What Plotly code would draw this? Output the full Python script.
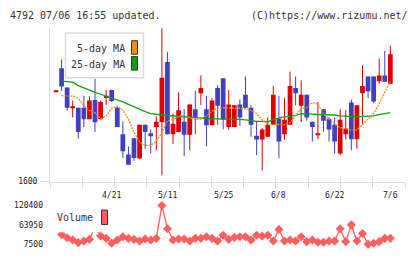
import plotly.graph_objects as go

# ---------------- data ----------------
dates = ["4/7", "4/8", "4/11", "4/12", "4/13", "4/14", "4/15", "4/18", "4/19", "4/20",
         "4/21", "4/22", "4/25", "4/26", "4/27", "4/28", "5/2", "5/6", "5/9", "5/10",
         "5/11", "5/12", "5/13", "5/16", "5/17", "5/18", "5/19", "5/20", "5/23", "5/24",
         "5/25", "5/26", "5/27", "5/30", "5/31", "6/1", "6/2", "6/3", "6/6", "6/7",
         "6/8", "6/9", "6/10", "6/13", "6/14", "6/15", "6/16", "6/17", "6/20", "6/21",
         "6/22", "6/23", "6/24", "6/27", "6/28", "6/29", "6/30", "7/1", "7/4", "7/5", "7/6"]

opens = [1786, 1835, 1795, 1753, 1753, 1753, 1729, 1769, 1729, 1773,
         1790, 1753, 1698, 1656, 1690, 1648, 1718, 1700, 1713, 1723,
         1848, 1698, 1703, 1724, 1697, 1750, 1783, 1750, 1717, 1794,
         1814, 1713, 1713, 1760, 1780, 1753, 1695, 1687, 1693, 1718,
         1730, 1698, 1718, 1794, 1757, 1780, 1724, 1698, 1750, 1730,
         1718, 1658, 1698, 1764, 1688, 1783, 1818, 1818, 1808, 1820, 1803]
highs = [1788, 1853, 1795, 1768, 1753, 1778, 1777, 1813, 1768, 1790,
         1790, 1756, 1725, 1673, 1690, 1718, 1718, 1708, 1735, 1918,
         1868, 1741, 1785, 1750, 1760, 1788, 1820, 1778, 1773, 1800,
         1814, 1790, 1758, 1770, 1818, 1758, 1725, 1711, 1733, 1798,
         1778, 1773, 1828, 1818, 1810, 1780, 1724, 1765, 1750, 1733,
         1733, 1750, 1748, 1770, 1758, 1841, 1818, 1818, 1855, 1871, 1882]
lows = [1786, 1788, 1747, 1733, 1689, 1713, 1729, 1703, 1729, 1759,
        1765, 1713, 1649, 1635, 1643, 1648, 1668, 1658, 1665, 1613,
        1698, 1678, 1703, 1653, 1665, 1698, 1759, 1673, 1717, 1718,
        1708, 1708, 1713, 1715, 1753, 1693, 1655, 1623, 1693, 1718,
        1648, 1687, 1718, 1758, 1723, 1726, 1683, 1688, 1703, 1683,
        1658, 1655, 1687, 1665, 1668, 1718, 1773, 1763, 1803, 1807, 1803]
closes = [1788, 1797, 1753, 1755, 1703, 1729, 1768, 1723, 1765, 1778,
          1767, 1713, 1663, 1635, 1649, 1718, 1703, 1696, 1724, 1815,
          1698, 1720, 1748, 1697, 1760, 1733, 1794, 1717, 1768, 1757,
          1728, 1760, 1758, 1733, 1753, 1718, 1687, 1708, 1718, 1780,
          1683, 1728, 1798, 1783, 1780, 1733, 1713, 1700, 1726, 1708,
          1683, 1728, 1710, 1688, 1758, 1798, 1787, 1766, 1820, 1807, 1864]

ma5 = [None, 1778, 1778, 1777, 1773, 1757, 1747, 1743, 1730, 1736,
       1752, 1756, 1748, 1730, 1702, 1682, 1675, 1675, 1684, 1701,
       1726, 1729, 1735, 1737, 1732, 1728, 1730, 1736, 1746, 1753,
       1753, 1753, 1753, 1752, 1751, 1747, 1741, 1728, 1718, 1718,
       1718, 1718, 1722, 1736, 1752, 1753, 1764, 1761, 1740, 1730,
       1719, 1712, 1709, 1707, 1707, 1719, 1731, 1741, 1762, 1784, 1808]
ma25 = [None, 1808, 1807, 1806, 1799, 1794, 1789, 1785, 1781, 1777,
        1774, 1770, 1765, 1760, 1755, 1749, 1745, 1741, 1739, 1738,
        1737, 1736, 1736, 1735, 1733, 1732, 1731, 1730, 1730, 1730,
        1730, 1729, 1729, 1729, 1728, 1726, 1725, 1725, 1724, 1729,
        1732, 1734, 1735, 1737, 1741, 1741, 1740, 1739, 1739, 1738,
        1738, 1736, 1735, 1734, 1734, 1735, 1735, 1736, 1739, 1741, 1743]

volume = [None, 35700, 26100, 19600, 12000, 16800, 21600, 56300, 31800, 24400,
          10300, 19600, 29000, 24400, 21600, 16800, 22500, 19600, 24400, 120400,
          52700, 19600, 22500, 22500, 16800, 24400, 24400, 29000, 24400, 16800,
          33700, 21600, 27300, 29000, 29000, 19600, 33700, 30900, 33700, 16800,
          50700, 16800, 19600, 16800, 29000, 14800, 19600, 13100, 13100, 16800,
          16800, 52700, 14800, 63900, 16800, 38500, 7500, 10300, 14800, 24400, 24400]

price_ticks = [1600]
vol_ticks = [7500, 63950, 120400]
label_every = 10

# ---------------- styling ----------------
W, H = 420, 259
RED = "#dd0000"
BLUE = "#4040bf"
ORANGE = "#f08c1e"
GREEN = "#12a012"
VOLC = "#ff5f5f"
AX = "#dcdcdc"
TXT = "#333333"
FONT = "DejaVu Sans Mono"


def px(x):
    return x / W


def py(y):
    return 1 - y / H


n = len(dates)
idx = list(range(n))
up = [c >= o for o, c in zip(opens, closes)]

XR = [-1.077, 62.63]
tick_pos = [XR[0] + k * (XR[1] - XR[0]) / 11 for k in range(12)]

fig = go.Figure()

# wicks
for flag, color in [(True, RED), (False, BLUE)]:
    xs, ys = [], []
    for i in idx:
        if up[i] == flag:
            xs += [i, i, None]
            ys += [lows[i], highs[i], None]
    fig.add_trace(go.Scatter(x=xs, y=ys, mode="lines", line=dict(color=color, width=1),
                             hoverinfo="skip", xaxis="x", yaxis="y"))

# moving averages
fig.add_trace(go.Scatter(x=idx, y=ma25, mode="lines", line=dict(color=GREEN, width=1.3),
                         xaxis="x", yaxis="y"))
fig.add_trace(go.Scatter(x=idx, y=ma5, mode="lines",
                         line=dict(color=ORANGE, width=1.3, dash="2px,1px"),
                         xaxis="x", yaxis="y"))

# bodies
for flag, color in [(True, RED), (False, BLUE)]:
    xs = [i for i in idx if up[i] == flag]
    base = [min(opens[i], closes[i]) for i in xs]
    hgt = [max(abs(closes[i] - opens[i]), 2) for i in xs]
    fig.add_trace(go.Bar(x=xs, y=hgt, base=base, width=0.85,
                         marker=dict(color=color, line=dict(width=0)),
                         xaxis="x", yaxis="y"))

# volume
fig.add_trace(go.Scatter(x=idx, y=volume, mode="lines+markers",
                         line=dict(color=VOLC, width=1.3),
                         marker=dict(symbol="diamond", size=7, color=VOLC),
                         cliponaxis=False, xaxis="x2", yaxis="y2"))

# helper trace for the overlay tick axis
fig.add_trace(go.Scatter(x=[0], y=[1600], mode="markers", marker=dict(opacity=0),
                         xaxis="x3", yaxis="y", hoverinfo="skip"))

tickfont = dict(family=FONT, size=8, color="#222222")

fig.update_layout(
    width=W, height=H, margin=dict(l=0, r=0, t=0, b=0),
    paper_bgcolor="white", plot_bgcolor="white", showlegend=False,
    barmode="overlay",
    xaxis=dict(domain=[px(50), px(405)], range=XR, anchor="y",
               showline=True, linecolor=AX, linewidth=1,
               ticks="outside", ticklen=5, tickcolor=AX, tickwidth=1,
               tickvals=tick_pos, showticklabels=False,
               showgrid=False, zeroline=False),
    xaxis3=dict(overlaying="x", range=XR, anchor="y",
                ticks="inside", ticklen=4, tickcolor=AX, tickwidth=1,
                tickvals=tick_pos, showticklabels=False,
                showline=False, showgrid=False, zeroline=False),
    yaxis=dict(domain=[py(184), py(25)], range=[1600, 1918], anchor="x",
               showline=True, linecolor=AX, linewidth=1,
               ticks="outside", ticklen=9, tickcolor=AX,
               tickvals=price_ticks, ticktext=[str(v) for v in price_ticks],
               tickfont=tickfont, ticklabelstandoff=1,
               showgrid=False, zeroline=False),
    xaxis2=dict(domain=[px(50), px(405)], range=XR, anchor="y2", visible=False),
    yaxis2=dict(domain=[py(248.8), py(208.8)], range=[7500, 120400], anchor="x2",
                tickvals=vol_ticks, ticktext=[str(v) for v in vol_ticks],
                tickfont=tickfont, ticks="", ticklabelstandoff=6,
                showline=False, showgrid=False, zeroline=False),
)

shapes = [
    # price legend
    dict(type="rect", xref="paper", yref="paper", x0=px(65.5), x1=px(143.5),
         y0=py(76.5), y1=py(30), fillcolor="white", line=dict(color=AX, width=1.5),
         layer="above"),
    dict(type="rect", xref="paper", yref="paper", x0=px(131.5), x1=px(137.5),
         y0=py(52), y1=py(38), fillcolor=ORANGE, line=dict(color="#333333", width=1),
         layer="above"),
    dict(type="rect", xref="paper", yref="paper", x0=px(131.5), x1=px(137.5),
         y0=py(68.5), y1=py(54.5), fillcolor=GREEN, line=dict(color="#333333", width=1),
         layer="above"),
    # volume legend
    dict(type="rect", xref="paper", yref="paper", x0=px(55), x1=px(112),
         y0=py(236.5), y1=py(204), fillcolor="white", line=dict(width=0),
         layer="above"),
    dict(type="rect", xref="paper", yref="paper", x0=px(101.5), x1=px(107.5),
         y0=py(228.5), y1=py(213.5), fillcolor=VOLC, line=dict(color="#333333", width=1),
         layer="above"),
]

txt = dict(family=FONT, size=10, color=TXT)
annotations = [
    dict(text="4792 07/06 16:55 updated.", x=px(8), y=py(12), xref="paper", yref="paper",
         xanchor="left", yanchor="middle", showarrow=False, font=txt),
    dict(text="(C)https://www.rizumu.net/", x=px(410), y=py(12), xref="paper", yref="paper",
         xanchor="right", yanchor="middle", showarrow=False, font=txt),
    dict(text="5-day MA", x=px(127), y=py(46), xref="paper", yref="paper",
         xanchor="right", yanchor="middle", showarrow=False, font=txt),
    dict(text="25-day MA", x=px(127), y=py(62.5), xref="paper", yref="paper",
         xanchor="right", yanchor="middle", showarrow=False, font=txt),
    dict(text="Volume", x=px(95), y=py(221.5), xref="paper", yref="paper",
         xanchor="right", yanchor="middle", showarrow=False, font=txt),
]
for i in range(label_every, n, label_every):
    annotations.append(dict(text=dates[i], x=i, y=py(198.5), xref="x", yref="paper",
                            xanchor="center", yanchor="middle", showarrow=False,
                            font=tickfont))

fig.update_layout(shapes=shapes, annotations=annotations)

fig.write_html("out.html")
